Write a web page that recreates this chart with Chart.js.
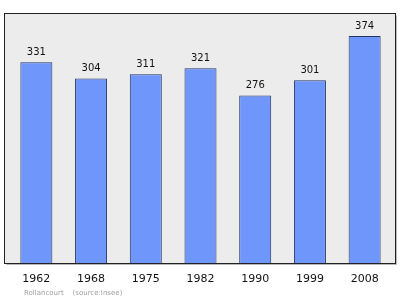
<!DOCTYPE html>
<html>
<head>
<meta charset="utf-8">
<script src="https://cdn.jsdelivr.net/npm/chart.js@4"></script>
<style>
  html, body { margin: 0; padding: 0; background: #fff; }
  #wrap { width: 400px; height: 299px; }
</style>
</head>
<body>
<div id="wrap"><canvas id="popChart" width="400" height="299"></canvas></div>
<script>
const years = ["1962", "1968", "1975", "1982", "1990", "1999", "2008"];
const population = [331, 304, 311, 321, 276, 301, 374];
const yMax = 412;
const sourceText = "Rollancourt    (source:Insee)";

// gray plot box with dark frame, behind the bars
const framePlugin = {
  id: "frame",
  beforeDraw(chart) {
    const { ctx, chartArea: a } = chart;
    const x0 = 4.5, x1 = 395.5, y0 = a.top + 0.5, y1 = a.bottom + 0.5;
    ctx.save();
    ctx.fillStyle = "#ececec";
    ctx.fillRect(x0, y0, x1 - x0, y1 - y0);
    ctx.strokeStyle = "#b8b8b8";
    ctx.lineWidth = 1;
    ctx.beginPath();
    ctx.moveTo(x1 + 1, y0 + 2);
    ctx.lineTo(x1 + 1, y1 + 1);
    ctx.lineTo(x0 + 2, y1 + 1);
    ctx.stroke();
    ctx.strokeStyle = "#222";
    ctx.strokeRect(x0, y0, x1 - x0, y1 - y0);
    ctx.restore();
  },
  afterDraw(chart) {
    const { ctx } = chart;
    ctx.save();
    ctx.fillStyle = "#a0a0a0";
    ctx.font = "7px 'DejaVu Sans', sans-serif";
    ctx.textBaseline = "middle";
    ctx.fillText(sourceText, 24, 293);
    ctx.restore();
  }
};

// value labels over each bar
const valueLabels = {
  id: "valueLabels",
  afterDatasetsDraw(chart) {
    const { ctx } = chart;
    const meta = chart.getDatasetMeta(0);
    ctx.save();
    ctx.fillStyle = "#111";
    ctx.font = "10px 'DejaVu Sans', sans-serif";
    ctx.textAlign = "center";
    ctx.textBaseline = "bottom";
    meta.data.forEach((bar, i) => {
      ctx.fillText(String(population[i]), bar.x, bar.y - 5);
    });
    ctx.restore();
  }
};

new Chart(document.getElementById("popChart").getContext("2d"), {
  type: "bar",
  data: {
    labels: years,
    datasets: [{
      data: population,
      backgroundColor: "#6f96fa",
      borderColor: "#243462",
      borderWidth: 1,
      barPercentage: 0.585,
      categoryPercentage: 1
    }]
  },
  options: {
    responsive: false,
    animation: false,
    layout: { padding: { top: 13, left: 9, right: 8, bottom: 0 } },
    plugins: { legend: { display: false }, tooltip: { enabled: false } },
    scales: {
      y: { display: false, min: 0, max: yMax },
      x: {
        grid: { display: false },
        border: { display: false },
        ticks: { color: "#111", font: { size: 11, family: "'DejaVu Sans', sans-serif" }, padding: 2 },
        afterFit(scale) { scale.height = 36; }
      }
    }
  },
  plugins: [framePlugin, valueLabels]
});
</script>
</body>
</html>
